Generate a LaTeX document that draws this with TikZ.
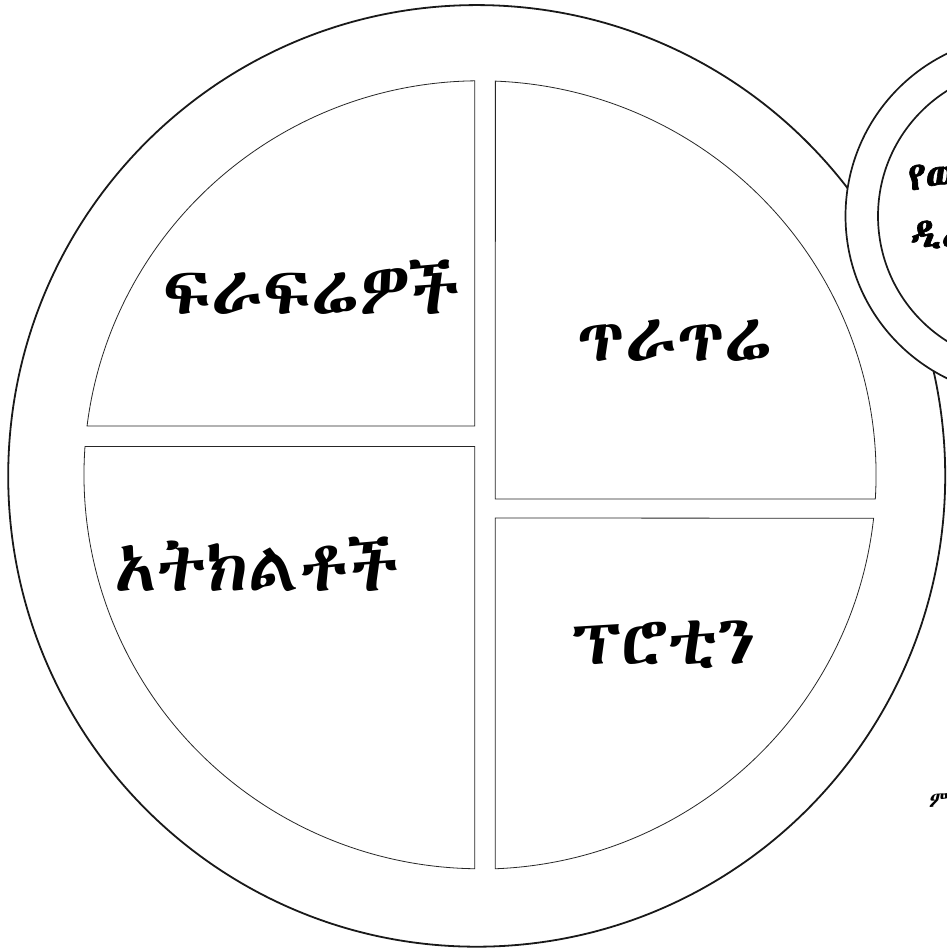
\documentclass[tikz,border=0pt]{standalone}
\usepackage{fontspec}
\newcommand\seteth[1]{%
  \newfontfamily\eth{#1}%
  \newfontfamily\ethbf[FakeBold=1.6]{#1}%
  \newfontfamily\ethit[FakeSlant=0.2]{#1}}
\IfFontExistsTF{Abyssinica SIL}{\seteth{Abyssinica SIL}}{%
  \IfFontExistsTF{Noto Sans Ethiopic}{\seteth{Noto Sans Ethiopic}}{%
    \IfFontExistsTF{FreeSerif}{\seteth{FreeSerif}}{\seteth{DejaVu Sans}}}}
\begin{document}
\begin{tikzpicture}[x=1pt,y=1pt,
  platel/.style={line width=1.8pt, draw=black!90},
  quad/.style={line width=0.8pt, draw=black!85},
  cupl/.style={line width=1.7pt, draw=black!90},
  lbl/.style={font={\eth\fontsize{69}{72}\selectfont}, anchor=base, inner sep=0pt},
  cuptxt/.style={font={\ethbf\fontsize{40}{44}\selectfont}, anchor=base west, inner sep=0pt},
  srctxt/.style={font={\ethit\fontsize{22}{24}\selectfont}, anchor=base west, inner sep=0pt}]
\useasboundingbox (0,0) rectangle (946,949);
\fill[white] (0,0) rectangle (946,949);
% plate rim
\draw[platel] (476.7,473.1) ellipse [x radius=468.5, y radius=470.8];
% quadrants
\draw[quad] (474.8,523) -- (474.8,868.17) arc[start angle=90.752, end angle=172.885, x radius=396, y radius=394] -- cycle;
\draw[quad] (474.8,502.5) -- (85.0,502.5) arc[start angle=175.881, end angle=269.248, x radius=396, y radius=394] -- cycle;
\draw[quad] (495.3,450) -- (875.3,450) arc[start angle=-3.521, end angle=87.786, x radius=396, y radius=394] -- cycle;
\draw[quad] (495.3,431) -- (495.3,80.23) arc[start angle=-87.786, end angle=-6.295, x radius=396, y radius=394] -- cycle;
% labels
\node[lbl] (fruits) at (312,634) {ፍራፍሬዎች};
\node[lbl] (grains) at (675,587) {ጥራጥሬ};
\node[lbl] (veg) at (257,357) {አትክልቶች};
\node[lbl] (protein) at (664,284) {ፕሮቲን};
% cup
\draw[cupl, fill=white] (1026,733) circle[radius=180.5];
\draw[cupl] (1026,733) circle[radius=148];
\node[cuptxt] (cup1) at (908,759) {የወተት};
\node[cuptxt] (cup2) at (910,702) {ዲሪ};
% source
\node[srctxt] (src) at (928,141) {ምንጭ};
\end{tikzpicture}
\end{document}
